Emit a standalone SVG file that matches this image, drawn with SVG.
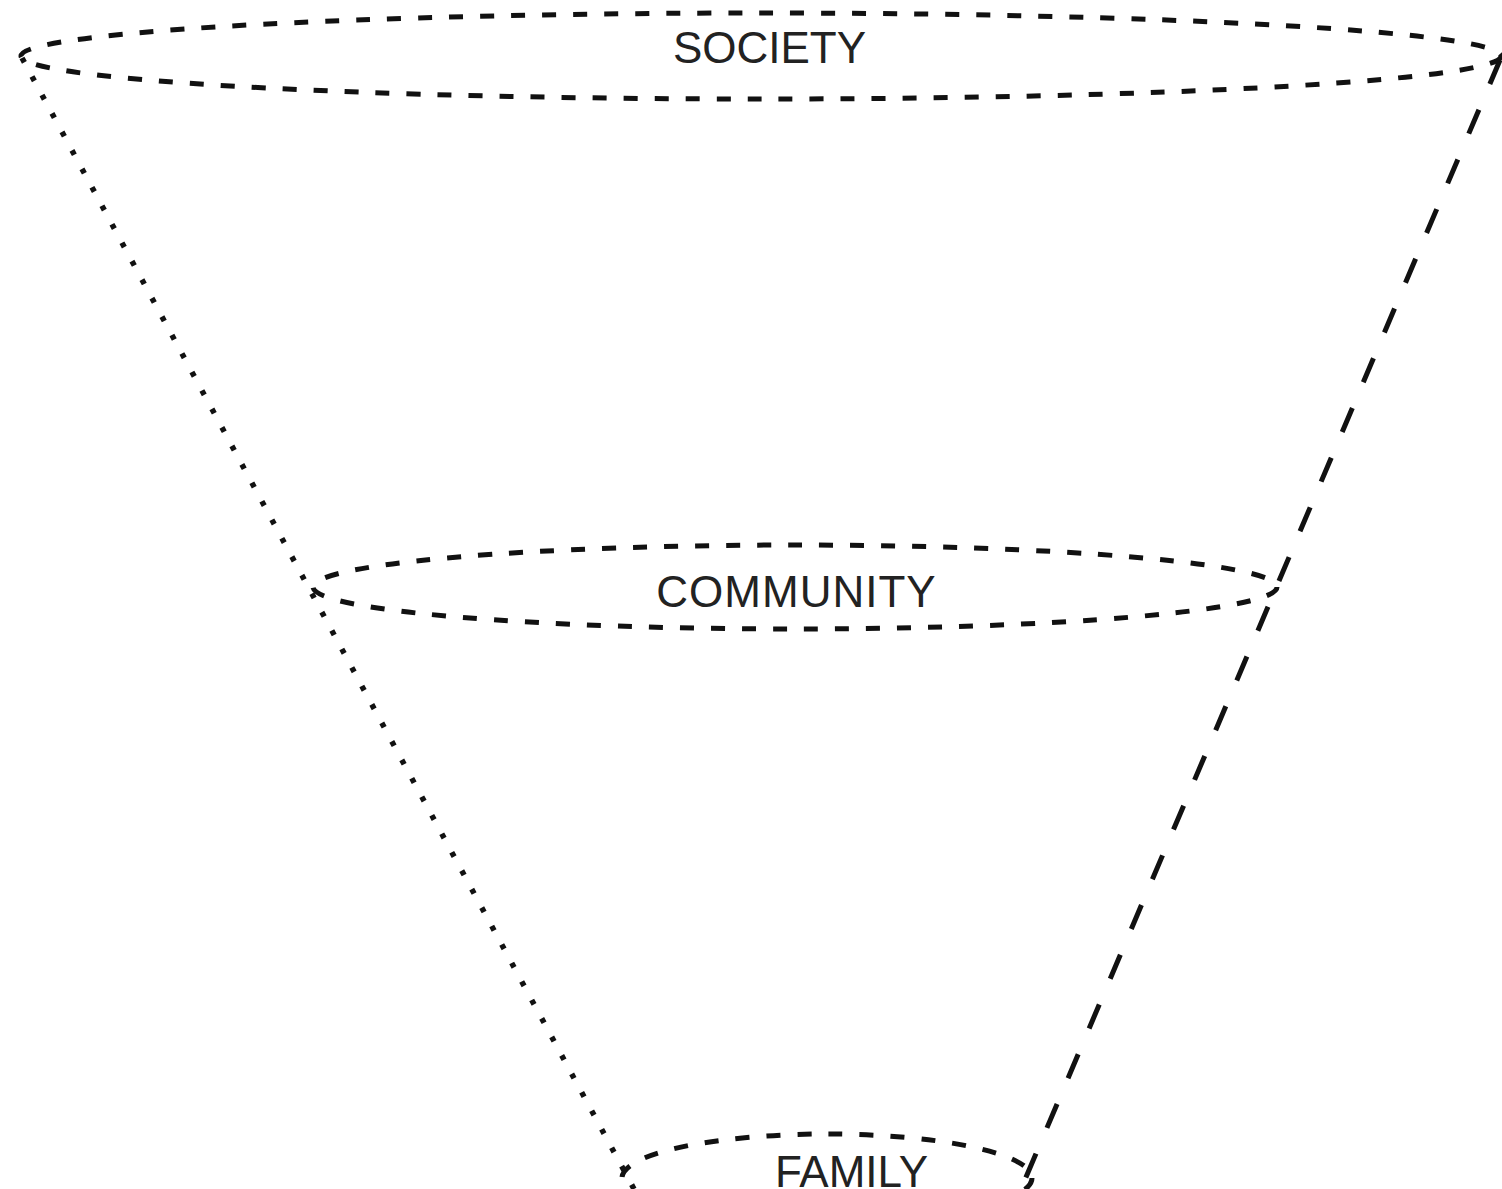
<svg xmlns="http://www.w3.org/2000/svg" width="1502" height="1189" viewBox="0 0 1502 1189">
<style>
.ring{fill:none;stroke:#111;stroke-width:5;stroke-dasharray:14 17}
.dot{fill:none;stroke:#111;stroke-width:5.5;stroke-dasharray:5 16}
.dash{fill:none;stroke:#111;stroke-width:5;stroke-dasharray:26 28}
.lbl{font-family:"Liberation Sans",Arial,sans-serif;font-size:44px;fill:#222;text-anchor:middle}
</style>
<rect width="1502" height="1189" fill="#fff"/>
<g id="connectors">
<line class="dot" x1="22" y1="58" x2="634" y2="1189"/>
<line class="dash" x1="1500" y1="60" x2="1021" y2="1189"/>
</g>
<g id="society">
<ellipse class="ring" cx="761" cy="56" rx="740" ry="43"/>
<text class="lbl" x="769.5" y="63">SOCIETY</text>
</g>
<g id="community">
<ellipse class="ring" cx="795" cy="587" rx="482" ry="42"/>
<text class="lbl" x="796.5" y="607" letter-spacing="1">COMMUNITY</text>
</g>
<g id="family">
<ellipse class="ring" cx="827" cy="1178" rx="205" ry="44"/>
<text class="lbl" x="851.5" y="1187">FAMILY</text>
</g>
</svg>
